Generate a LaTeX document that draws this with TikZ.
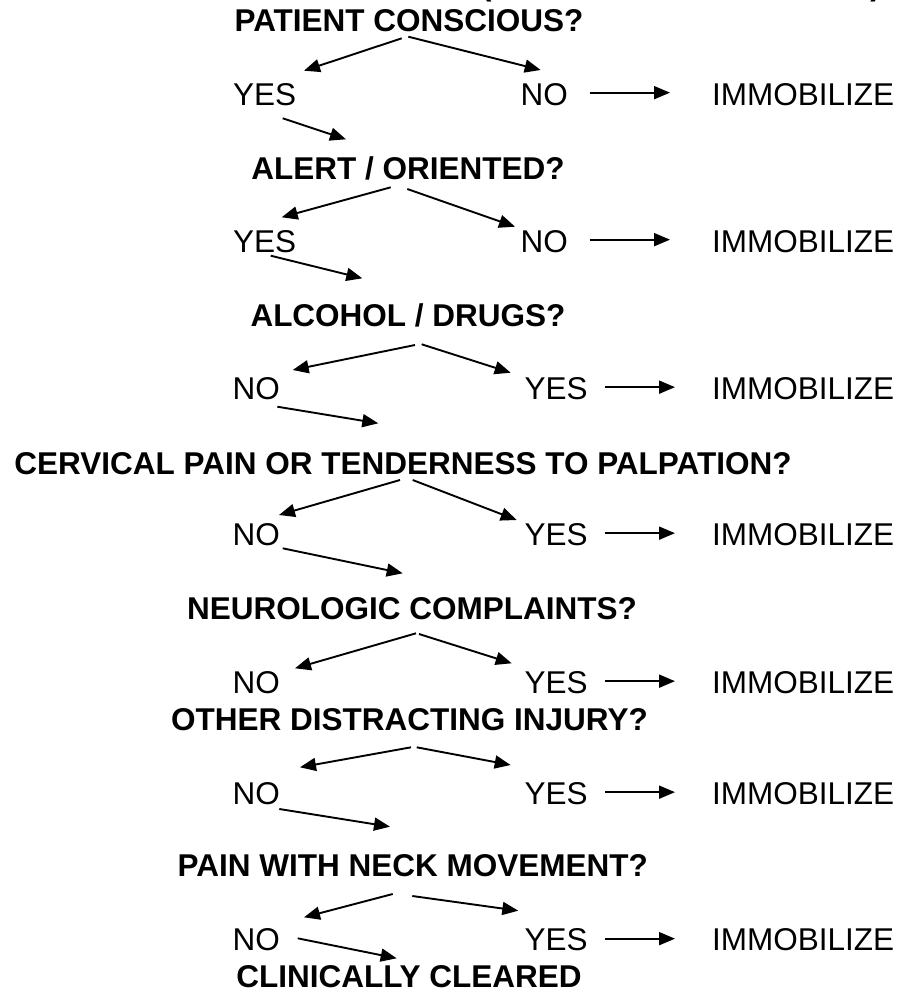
\documentclass[tikz,border=0pt]{standalone}
\usepackage{fontspec}
\setmainfont{Liberation Sans}
\usetikzlibrary{arrows.meta}
\begin{document}
\begin{tikzpicture}[x=1pt,y=-1pt,
  q/.style={font=\fontsize{31.5}{36}\selectfont\bfseries, inner sep=0pt, anchor=base},
  qe/.style={q, anchor=base east},
  ans/.style={font=\fontsize{31.5}{36}\selectfont, inner sep=0pt, anchor=base west},
  arr/.style={-{Triangle[length=16pt,width=13pt]}, line width=1.9pt},
]
\useasboundingbox (0,0) rectangle (901,989);
\clip (0,0) rectangle (901,989);

% remnants of the line above, cut by the page edge
\node[q, anchor=base west] (pl) at (481,-4.2) {(};
\node[q, anchor=base east] (pr) at (881,-4.2) {)};

% questions
\node[q]  (q1) at (409,31.7)  {PATIENT CONSCIOUS?};
\node[q]  (q2) at (408,179)   {ALERT / ORIENTED?};
\node[q]  (q3) at (408,326)   {ALCOHOL / DRUGS?};
\node[q]  (q4) at (403,474)   {CERVICAL PAIN OR TENDERNESS TO PALPATION?};
\node[qe] (q5) at (637,619)   {NEUROLOGIC COMPLAINTS?};
\node[qe] (q6) at (648,730)   {OTHER DISTRACTING INJURY?};
\node[qe] (q7) at (648,876.5) {PAIN WITH NECK MOVEMENT?};
\node[q]  (q8) at (409,987.5) {CLINICALLY CLEARED};

% answers, left column
\node[ans] (a1) at (233,105)   {YES};
\node[ans] (a2) at (233,252)   {YES};
\node[ans] (a3) at (232.5,399) {NO};
\node[ans] (a4) at (232.5,545) {NO};
\node[ans] (a5) at (232.5,693) {NO};
\node[ans] (a6) at (232.5,804) {NO};
\node[ans] (a7) at (232.5,950.5) {NO};

% answers, right column
\node[ans] (b1) at (520.5,105) {NO};
\node[ans] (b2) at (520.5,252) {NO};
\node[ans] (b3) at (524.5,399) {YES};
\node[ans] (b4) at (524.5,545) {YES};
\node[ans] (b5) at (524.5,693) {YES};
\node[ans] (b6) at (524.5,804) {YES};
\node[ans] (b7) at (524.5,950.5) {YES};

% outcomes
\foreach \i/\y in {1/105,2/252,3/399,4/545,5/693,6/804,7/950.5}
  \node[ans] (m\i) at (712,\y) {IMMOBILIZE};

% horizontal arrows to the outcomes
\foreach \i in {1,2}
  \draw[arr] ([xshift=21.5pt,yshift=1.5pt]b\i.east) -- ([xshift=-42pt,yshift=1.5pt]m\i.west);
\foreach \i in {3,...,7}
  \draw[arr] ([xshift=17.5pt,yshift=1pt]b\i.east) -- ([xshift=-37pt,yshift=1pt]m\i.west);

% branch points under each question and arrow ends
\coordinate (q1l) at (401.7,38.3);  \coordinate (t1l) at (304,70.7);
\coordinate (q1r) at (408.3,36.7);  \coordinate (t1r) at (540.7,70);
\coordinate (a1s) at (282.7,118.3); \coordinate (q2t) at (346,139.3);

\coordinate (q2l) at (390.7,187.3); \coordinate (t2l) at (281.7,217.3);
\coordinate (q2r) at (407.3,189);   \coordinate (t2r) at (515,226.7);
\coordinate (a2s) at (270.7,255.7); \coordinate (q3t) at (362.3,278.3);

\coordinate (q3l) at (415,345);     \coordinate (t3l) at (292.7,370);
\coordinate (q3r) at (421.7,344.3); \coordinate (t3r) at (510.7,372.7);
\coordinate (a3s) at (277.3,406.7); \coordinate (q4t) at (378.3,423.3);

\coordinate (q4l) at (400,480);     \coordinate (t4l) at (279,515);
\coordinate (q4r) at (412.7,480);   \coordinate (t4r) at (516.7,520);
\coordinate (a4s) at (282.7,548.3); \coordinate (q5t) at (402.7,573.3);

\coordinate (q5l) at (416,633.3);   \coordinate (t5l) at (295,668.3);
\coordinate (q5r) at (419,634);     \coordinate (t5r) at (511.7,663.3);

\coordinate (q6l) at (411,747.3);   \coordinate (t6l) at (300,767.3);
\coordinate (q6r) at (416.7,747.3); \coordinate (t6r) at (510.7,765);
\coordinate (a6s) at (279.3,809);   \coordinate (q7t) at (390,826.7);

\coordinate (q7l) at (392.7,894);   \coordinate (t7l) at (304,917.3);
\coordinate (q7r) at (412.3,896);   \coordinate (t7r) at (518.3,910.7);
\coordinate (a7s) at (297.7,938.3); \coordinate (q8t) at (396.7,958.3);

% branch arrows
\foreach \i in {1,...,7}{
  \draw[arr] (q\i l) -- (t\i l);
  \draw[arr] (q\i r) -- (t\i r);
}
% continuation arrows
\draw[arr] (a1s) -- (q2t);
\draw[arr] (a2s) -- (q3t);
\draw[arr] (a3s) -- (q4t);
\draw[arr] (a4s) -- (q5t);
\draw[arr] (a6s) -- (q7t);
\draw[arr] (a7s) -- (q8t);
\end{tikzpicture}
\end{document}
